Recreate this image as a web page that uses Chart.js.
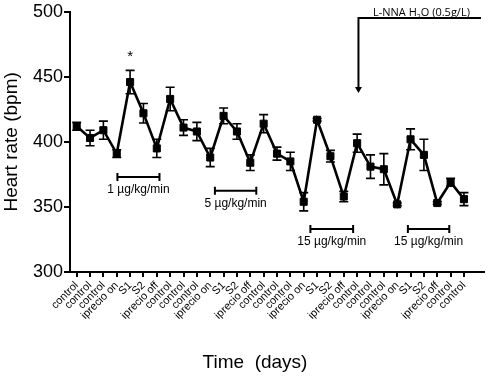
<!DOCTYPE html>
<html>
<head>
<meta charset="utf-8">
<script src="https://cdn.jsdelivr.net/npm/chart.js"></script>
<style>
  html, body { margin: 0; padding: 0; background: #fff; }
  #wrap { width: 490px; height: 378px; }
</style>
</head>
<body>
<div id="wrap"><canvas id="hr" width="490" height="378"></canvas></div>
<script>
// categories (x axis)
const labels = [
  'control', 'control', 'control', 'iprecio on', 'S1', 'S2', 'iprecio off',
  'control', 'control', 'control', 'iprecio on', 'S1', 'S2', 'iprecio off',
  'control', 'control', 'control', 'iprecio on', 'S1', 'S2', 'iprecio off',
  'control', 'control', 'control', 'iprecio on', 'S1', 'S2', 'iprecio off',
  'control', 'control'
];

// mean heart rate (bpm) and error (+/-)
const heartRate = [
  412, 403, 409, 391, 446, 422, 395,
  433, 411, 408, 388, 420, 408, 384,
  414, 391, 385, 354, 417, 389, 358,
  399, 381, 379, 352, 402, 390, 353,
  369, 356
];
const errors = [
  3, 6, 7, 3, 9, 7.5, 7,
  9, 6, 7, 7, 6, 6, 6,
  7, 5, 7, 7, 1, 4.5, 4,
  7, 9, 12, 1, 8, 12, 1,
  3, 5
];

const yTicks = [300, 350, 400, 450, 500];

// dose bars: [from index, to index, bar value, text]
const doseBars = [
  [3.05, 6.2, 373, '1 \u00b5g/kg/min'],
  [10.35, 13.45, 362.5, '5 \u00b5g/kg/min'],
  [17.5, 20.7, 333, '15 \u00b5g/kg/min'],
  [24.8, 27.9, 333, '15 \u00b5g/kg/min']
];

const extras = {
  id: 'extras',
  afterDatasetsDraw(chart) {
    const { ctx } = chart;
    const x = chart.scales.x;
    const y = chart.scales.y;
    ctx.save();
    ctx.strokeStyle = '#000';
    ctx.fillStyle = '#000';

    // error bars
    ctx.lineWidth = 1.6;
    heartRate.forEach((v, i) => {
      const e = errors[i];
      const px = x.getPixelForValue(i);
      const top = y.getPixelForValue(v + e);
      const bot = y.getPixelForValue(v - e);
      ctx.beginPath();
      ctx.moveTo(px, top); ctx.lineTo(px, bot);
      ctx.moveTo(px - 4.5, top); ctx.lineTo(px + 4.5, top);
      ctx.moveTo(px - 4.5, bot); ctx.lineTo(px + 4.5, bot);
      ctx.stroke();
    });

    // asterisk
    ctx.font = '15px "Liberation Sans", Arial, sans-serif';
    ctx.textAlign = 'center';
    ctx.textBaseline = 'middle';
    ctx.fillText('*', x.getPixelForValue(4), y.getPixelForValue(465));

    // dose bars
    ctx.lineWidth = 2;
    ctx.font = '12px "Liberation Sans", Arial, sans-serif';
    doseBars.forEach(([a, b, v, t]) => {
      const x1 = x.getPixelForValue(a);
      const x2 = x.getPixelForValue(b);
      const py = y.getPixelForValue(v);
      ctx.beginPath();
      ctx.moveTo(x1, py); ctx.lineTo(x2, py);
      ctx.moveTo(x1, py - 4); ctx.lineTo(x1, py + 4);
      ctx.moveTo(x2, py - 4); ctx.lineTo(x2, py + 4);
      ctx.stroke();
      ctx.fillText(t, (x1 + x2) / 2, py + 13);
    });

    // L-NNA arrow
    const ax = x.getPixelForValue(21.1);
    const ay = 18;
    const ab = y.getPixelForValue(437.5);
    ctx.lineWidth = 2;
    ctx.beginPath();
    ctx.moveTo(481, ay); ctx.lineTo(ax, ay); ctx.lineTo(ax, ab - 5);
    ctx.stroke();
    ctx.beginPath();
    ctx.moveTo(ax - 3.5, ab - 6); ctx.lineTo(ax + 3.5, ab - 6); ctx.lineTo(ax, ab);
    ctx.closePath();
    ctx.fill();

    ctx.font = '11px "Open Sans", sans-serif';
    ctx.textAlign = 'left';
    ctx.textBaseline = 'alphabetic';
    let tx = 373;
    const ty = 16;
    ctx.fillText('L-NNA H', tx, ty);
    tx += ctx.measureText('L-NNA H').width;
    ctx.font = '7px "Open Sans", sans-serif';
    ctx.fillText('2', tx, ty + 3);
    tx += ctx.measureText('2').width;
    ctx.font = '11px "Open Sans", sans-serif';
    ctx.fillText('O (0.5g/L)', tx, ty);

    // x title
    ctx.font = '19px "Liberation Sans", Arial, sans-serif';
    ctx.textAlign = 'center';
    ctx.textBaseline = 'middle';
    ctx.fillText('Time  (days)', 255, 363);
    ctx.restore();
  }
};

new Chart(document.getElementById('hr').getContext('2d'), {
  type: 'line',
  data: {
    datasets: [{
      data: heartRate.map((v, i) => ({ x: i, y: v })),
      borderColor: '#000',
      borderWidth: 2.6,
      backgroundColor: '#000',
      pointStyle: 'rect',
      pointRadius: 5,
      pointBorderWidth: 1,
      tension: 0
    }]
  },
  options: {
    responsive: false,
    animation: false,
    layout: { padding: { top: 7, right: 1, left: 0, bottom: 0 } },
    plugins: {
      legend: { display: false },
      tooltip: { enabled: false }
    },
    scales: {
      x: {
        type: 'linear',
        min: -0.5,
        max: 30.5,
        afterBuildTicks(scale) {
          scale.ticks = labels.map((_, i) => ({ value: i }));
        },
        afterFit(scale) { scale.height = 106; },
        border: { color: '#000', width: 2 },
        grid: { drawOnChartArea: false, color: '#000', lineWidth: 2, tickLength: 5 },
        ticks: {
          autoSkip: false,
          maxRotation: 45,
          minRotation: 45,
          padding: 2,
          color: '#000',
          font: { family: '"Liberation Sans", Arial, sans-serif', size: 11 },
          callback: (v) => labels[v]
        }
      },
      y: {
        min: 300,
        max: 500,
        afterBuildTicks(scale) {
          scale.ticks = yTicks.map((v) => ({ value: v }));
        },
        afterFit(scale) { scale.width = 70; },
        border: { color: '#000', width: 2 },
        grid: { drawOnChartArea: false, color: '#000', lineWidth: 2, tickLength: 6 },
        ticks: {
          padding: 1,
          color: '#000',
          font: { family: '"Liberation Sans", Arial, sans-serif', size: 18 }
        },
        title: {
          display: true,
          text: 'Heart rate (bpm)',
          color: '#000',
          padding: { top: 0, bottom: 0 },
          font: { family: '"Liberation Sans", Arial, sans-serif', size: 19 }
        }
      }
    }
  },
  plugins: [extras]
});
</script>
</body>
</html>
